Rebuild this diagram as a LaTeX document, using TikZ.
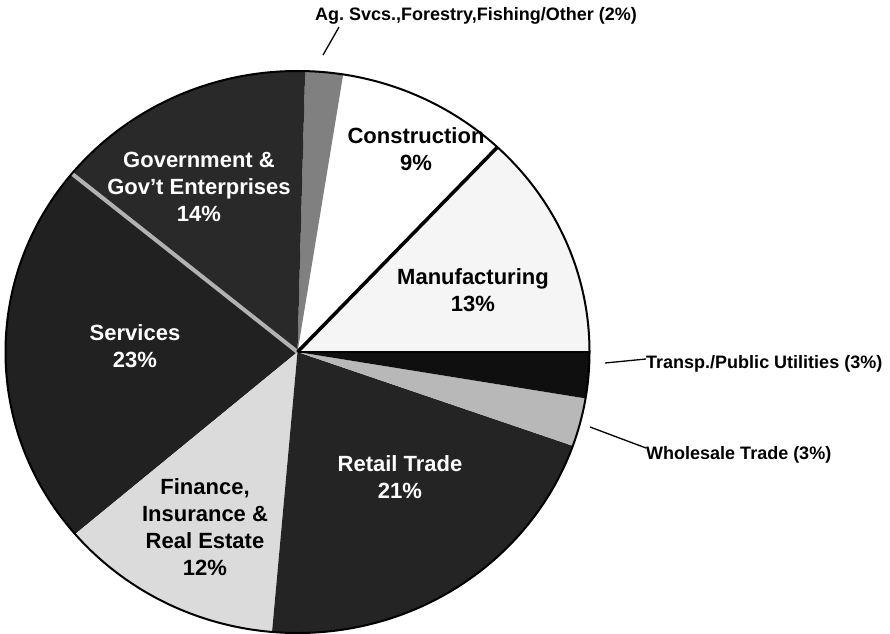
\documentclass[tikz,border=0pt]{standalone}
\usepackage{fontspec}
\setmainfont{Liberation Sans}
\frenchspacing
\begin{document}
\begin{tikzpicture}[x=1pt,y=1pt]
	\tikzstyle{every node}+=[inner sep=0pt]
	\tikzstyle{inlbl}=[font=\bfseries\fontsize{22}{27}\selectfont,align=center]
	\tikzstyle{outlbl}=[font=\bfseries\fontsize{18}{22}\selectfont,anchor=base west]
	\tikzstyle{leader}=[black,line width=1.3pt]
	\tikzstyle{rim}=[x radius=292pt,y radius=281pt]
	\useasboundingbox (0,0) rectangle (890,633);
	\coordinate (c) at (297.5,281);
	% slices, counterclockwise from the east
	\fill [black!4] (c) -- ++(0:292pt and 281pt) arc [rim,start angle=0,end angle=46.8] -- cycle;
	\fill [white] (c) -- ++(46.8:292pt and 281pt) arc [rim,start angle=46.8,end angle=81] -- cycle;
	\fill [black!50] (c) -- ++(81:292pt and 281pt) arc [rim,start angle=81,end angle=88.5] -- cycle;
	\fill [black!84] (c) -- ++(88.5:292pt and 281pt) arc [rim,start angle=88.5,end angle=140.6] -- cycle;
	\fill [black!87] (c) -- ++(140.6:292pt and 281pt) arc [rim,start angle=140.6,end angle=220.4] -- cycle;
	\fill [black!14] (c) -- ++(220.4:292pt and 281pt) arc [rim,start angle=220.4,end angle=265] -- cycle;
	\fill [black!86] (c) -- ++(265:292pt and 281pt) arc [rim,start angle=265,end angle=340.5] -- cycle;
	\fill [black!28] (c) -- ++(340.5:292pt and 281pt) arc [rim,start angle=340.5,end angle=350.5] -- cycle;
	\fill [black!94] (c) -- ++(350.5:292pt and 281pt) arc [rim,start angle=350.5,end angle=360] -- cycle;
	% edges
	\draw [black!30,line width=4pt] (c) -- ++(140.6:292pt and 281pt);
	\draw [black,line width=3.5pt] (c) -- ++(46.8:292pt and 281pt);
	\draw [black,line width=1.5pt] (c) -- ++(0:292pt and 281pt);
	\draw [black,line width=2pt] (c) ellipse [rim];
	% labels in the slices
	\node [inlbl] (constr) at (416,484) {Construction\\9\%};
	\node [inlbl] (manuf) at (473,343) {Manufacturing\\13\%};
	\node [inlbl,white] (govt) at (199,446) {Government \&\\Gov't Enterprises\\14\%};
	\node [inlbl,white] (serv) at (135,287) {Services\\23\%};
	\node [inlbl] (fire) at (205,106) {Finance,\\Insurance \&\\Real Estate\\12\%};
	\node [inlbl,white] (retail) at (400,156) {Retail Trade\\21\%};
	% labels outside
	\node [outlbl] (aglbl) at (315,612) {Ag. Svcs.,Forestry,Fishing/Other (2\%)};
	\node [outlbl] (translbl) at (646,265) {Transp./Public Utilities (3\%)};
	\node [outlbl] (wholelbl) at (646,174) {Wholesale Trade (3\%)};
	\coordinate (agtip) at (323,578);
	\coordinate (transtip) at (605,270);
	\coordinate (wholetip) at (590,206);
	\draw [leader] (agtip) -- ([shift={(24pt,-6pt)}]aglbl.base west);
	\draw [leader] (transtip) -- ([yshift=9pt]translbl.base west);
	\draw [leader] (wholetip) -- ([yshift=11pt]wholelbl.base west);
\end{tikzpicture}
\end{document}
